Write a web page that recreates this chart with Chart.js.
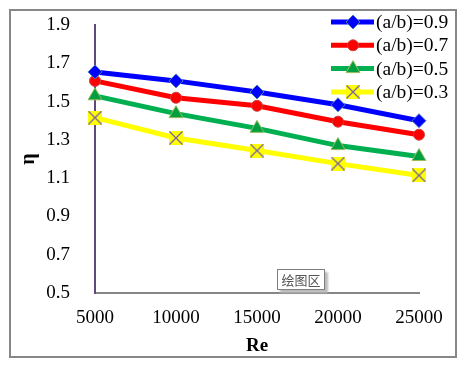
<!DOCTYPE html>
<html lang="zh">
<head>
<meta charset="UTF-8">
<title>eta vs Re</title>
<script src="https://cdn.jsdelivr.net/npm/chart.js"></script>
<style>
    body { margin: 0; background: #fff; }
    #wrap { position: relative; width: 471px; height: 365px; }
    #plotTag {
        position: absolute; left: 277px; top: 269px; width: 46px; height: 19px;
        border: 1px solid #7f7f7f; background: #fff; box-shadow: 3px 3px 2px #bbb;
        font: 13px "Noto Sans CJK SC"; color: #555; text-align: center; line-height: 19px;
    }
</style>
</head>
<body>
<div id="wrap">
    <canvas id="myChart01" width="471" height="365"></canvas>
    <div id="plotTag">绘图区</div>
</div>
<script>
    // data
    var reValues = [5000, 10000, 15000, 20000, 25000];
    var seriesNames = ['(a/b)=0.9', '(a/b)=0.7', '(a/b)=0.5', '(a/b)=0.3'];
    var eta09 = [1.655, 1.608, 1.55, 1.483, 1.40];
    var eta07 = [1.608, 1.52, 1.478, 1.395, 1.327];
    var eta05 = [1.53, 1.437, 1.36, 1.27, 1.213];
    var eta03 = [1.416, 1.31, 1.244, 1.176, 1.114];
    var yTicks = [0.5, 0.7, 0.9, 1.1, 1.3, 1.5, 1.7, 1.9];

    // yellow square with purple cross marker
    function crossBox() {
        var c = document.createElement('canvas');
        c.width = 14; c.height = 14;
        var g = c.getContext('2d');
        g.fillStyle = '#ffff00';
        g.fillRect(0, 0, 14, 14);
        g.strokeStyle = '#7b62a3';
        g.lineWidth = 1.3;
        g.beginPath();
        g.moveTo(0.5, 0.5); g.lineTo(13.5, 13.5);
        g.moveTo(13.5, 0.5); g.lineTo(0.5, 13.5);
        g.stroke();
        return c;
    }

    function pts(arr) {
        return arr.map(function (v, i) { return { x: reValues[i], y: v }; });
    }

    var serif = '"Liberation Serif", "Times New Roman", serif';

    // frame + legend drawn on the canvas
    var extras = {
        id: 'extras',
        beforeDraw: function (chart) {
            var ctx = chart.ctx;
            ctx.save();
            ctx.strokeStyle = '#878787';
            ctx.lineWidth = 2;
            ctx.strokeRect(10, 10, 446, 347);
            ctx.restore();
        },
        afterDraw: function (chart) {
            var ctx = chart.ctx;
            ctx.save();
            chart.data.datasets.forEach(function (ds, i) {
                var y = 22 + i * 23.3;
                ctx.strokeStyle = ds.borderColor;
                ctx.lineWidth = 5;
                ctx.beginPath();
                ctx.moveTo(331, y);
                ctx.lineTo(374, y);
                ctx.stroke();
                ctx.fillStyle = ds.pointBackgroundColor;
                ctx.strokeStyle = ds.pointBorderColor;
                ctx.lineWidth = ds.pointBorderWidth;
                Chart.helpers.drawPoint(ctx, {
                    pointStyle: ds.pointStyle,
                    radius: ds.pointRadius,
                    borderWidth: ds.pointBorderWidth
                }, 353, y);
                ctx.fillStyle = '#000';
                ctx.font = '19.5px ' + serif;
                ctx.textBaseline = 'middle';
                ctx.fillText(ds.label, 376, y + 1);
            });
            ctx.restore();
        }
    };

    var ctx01 = document.getElementById('myChart01');
    var mychart01 = new Chart(ctx01, {
        type: 'line',
        data: {
            datasets: [{
                label: seriesNames[0],
                data: pts(eta09),
                borderColor: '#0000ff',
                borderWidth: 5,
                pointStyle: 'rectRot',
                pointRadius: 7,
                pointBackgroundColor: '#0000ff',
                pointBorderColor: '#4f81bd',
                pointBorderWidth: 1
            }, {
                label: seriesNames[1],
                data: pts(eta07),
                borderColor: '#ff0000',
                borderWidth: 5,
                pointStyle: 'circle',
                pointRadius: 5.5,
                pointBackgroundColor: '#ff0000',
                pointBorderColor: '#d04040',
                pointBorderWidth: 1
            }, {
                label: seriesNames[2],
                data: pts(eta05),
                borderColor: '#00b050',
                borderWidth: 5,
                pointStyle: 'triangle',
                pointRadius: 8,
                pointBackgroundColor: '#00a040',
                pointBorderColor: '#9bbb59',
                pointBorderWidth: 1
            }, {
                label: seriesNames[3],
                data: pts(eta03),
                borderColor: '#ffff00',
                borderWidth: 5,
                pointStyle: crossBox(),
                pointRadius: 7,
                pointBackgroundColor: '#ffff00',
                pointBorderColor: '#7b62a3',
                pointBorderWidth: 1
            }]
        },
        options: {
            responsive: false,
            animation: false,
            clip: false,
            layout: { padding: { left: 10, top: 25, right: 52, bottom: 8 } },
            plugins: { legend: { display: false }, tooltip: { enabled: false } },
            scales: {
                x: {
                    type: 'linear',
                    min: 5000, max: 25000,
                    grid: { display: false },
                    border: { display: true, color: '#868686', width: 2 },
                    ticks: {
                        stepSize: 5000, padding: 6, color: '#000',
                        font: { family: serif, size: 19 },
                        callback: function (v) { return String(v); }
                    },
                    title: {
                        display: true, text: 'Re', color: '#000',
                        font: { family: serif, size: 19, weight: 'bold' },
                        padding: { top: 8, bottom: 0 }
                    },
                    afterFit: function (s) {
                        s.height = 64;
                        s.paddingLeft = 0;
                        s.paddingRight = 0;
                    }
                },
                y: {
                    min: 0.5, max: 1.9,
                    grid: { display: false },
                    border: { display: true, color: '#5f497a', width: 2 },
                    afterBuildTicks: function (s) {
                        s.ticks = yTicks.map(function (v) { return { value: v }; });
                    },
                    ticks: {
                        padding: 17, color: '#000',
                        font: { family: serif, size: 19 },
                        callback: function (v) { return v.toFixed(1); }
                    },
                    title: {
                        display: true, text: 'η', color: '#000',
                        font: { family: serif, size: 20, weight: 'bold' },
                        padding: { top: 7, bottom: 4 }
                    },
                    afterFit: function (s) {
                        s.width = 85;
                        s.paddingTop = 0;
                        s.paddingBottom = 0;
                    }
                }
            }
        },
        plugins: [extras]
    });
</script>
</body>
</html>
